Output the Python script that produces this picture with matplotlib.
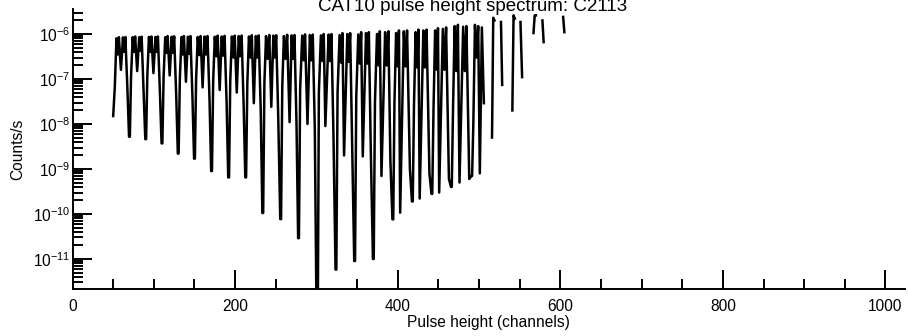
import numpy as np
import matplotlib
matplotlib.use('Agg')
import matplotlib.pyplot as plt
from matplotlib.ticker import LogLocator, MultipleLocator, NullFormatter, FixedLocator

plt.rcParams['font.family'] = ['Liberation Sans', 'DejaVu Sans']
plt.rcParams['mathtext.fontset'] = 'custom'
plt.rcParams['mathtext.rm'] = 'Liberation Sans'
plt.rcParams['mathtext.default'] = 'regular'

# Spectre : points clés (canal, coups/s), une ligne par période
channels = [
    50, 52, 54, 55.5, 57, 59.5, 62, 63.5, 65, 67.5,
    69.5, 70.5, 72, 74, 75.5, 77, 79.5, 82, 83.5, 85, 87.5,
    89.5, 90.5, 92, 94, 95.5, 97, 99.5, 102, 103.5, 105, 107.5,
    109.5, 110.5, 112, 114, 115.5, 117, 119.5, 122, 123.5, 125, 127.5,
    129.5, 130.5, 132, 134, 135.5, 137, 139.5, 142, 143.5, 145, 147.5,
    149.5, 150.5, 152, 154, 156, 157.5, 160, 162.5, 164, 166, 168.5,
    170.5, 171.5, 173, 175, 177, 178.5, 181, 183.5, 185, 187, 189.5,
    191.5, 192.5, 194, 196, 198, 199.5, 202, 204.5, 206, 208, 210.5,
    212.5, 213.5, 215, 217, 219, 220.5, 223, 225.5, 227, 229, 231.5,
    233.5, 234.5, 236, 238, 240, 242, 244.5, 247, 248.5, 250.5, 253,
    255.5, 256.5, 258, 260, 262, 264, 267, 269.5, 271, 273, 275.5,
    277.5, 278.5, 280, 282.5, 284.5, 286, 289, 292, 293.5, 295.5, 298,
    300.5, 301.5, 303, 305.5, 307.5, 309, 311, 315, 316.5, 318.5, 321,
    323.5, 324.5, 326, 328.5, 330.5, 332, 334, 338, 339.5, 341.5, 344,
    346.5, 347.5, 349, 351.5, 353.5, 355, 357, 361, 362.5, 364.5, 367,
    369.5, 370.5, 372, 374.5, 376.5, 378, 380, 384.5, 386.5, 388.5, 391,
    393.5, 394.5, 396, 398, 400, 401.5, 403, 407.5, 409.5, 411.5, 415,
    417.5, 418.5, 420, 422, 424, 425.5, 427, 431.5, 433.5, 435.5, 439,
    441.5, 442.5, 444, 446, 448, 449.5, 451, 455.5, 457.5, 459.5, 463,
    465.5, 466.5, 468, 470, 472, 474, 476, 480.5, 482.5, 484.5, 488,
    490.5, 491.5, 493, 495, 497, 499, 501, 503.5, 506,
]
rates = [
    1.5e-8, 6.7e-8, 8.0e-7, 3.5e-7, 8.5e-7, 1.6e-7, 8.4e-7, 4.0e-7, 8.6e-7, 6e-8,
    5.2e-9, 5.2e-9, 1.2e-7, 8.5e-7, 4.0e-7, 8.8e-7, 1.5e-7, 8.5e-7, 4.2e-7, 8.7e-7, 5e-8,
    4.6e-9, 4.6e-9, 1.2e-7, 8.6e-7, 4.0e-7, 8.8e-7, 1.35e-7, 8.6e-7, 4.0e-7, 8.8e-7, 5e-8,
    3.7e-9, 3.7e-9, 1.1e-7, 8.5e-7, 3.8e-7, 9.0e-7, 1.2e-7, 8.7e-7, 3.8e-7, 8.9e-7, 4.5e-8,
    2.2e-9, 2.2e-9, 1.0e-7, 8.6e-7, 3.5e-7, 9.0e-7, 8.7e-8, 8.7e-7, 3.6e-7, 9.0e-7, 4e-8,
    1.7e-9, 1.7e-9, 1.0e-7, 8.6e-7, 3.4e-7, 9.0e-7, 6.5e-8, 8.8e-7, 3.5e-7, 9.0e-7, 3.5e-8,
    9e-10, 9e-10, 9e-8, 8.7e-7, 3.2e-7, 9.2e-7, 5.7e-8, 8.8e-7, 3.3e-7, 9.1e-7, 3e-8,
    6.5e-10, 6.5e-10, 9e-8, 8.8e-7, 3.0e-7, 9.2e-7, 5e-8, 9.0e-7, 3.2e-7, 9.2e-7, 2.5e-8,
    6.5e-10, 6.5e-10, 8e-8, 8.8e-7, 3.0e-7, 9.4e-7, 2.9e-8, 9.0e-7, 3.0e-7, 9.3e-7, 2e-8,
    1.05e-10, 1.05e-10, 8e-8, 9.0e-7, 2.8e-7, 9.5e-7, 2.4e-8, 9.2e-7, 3.0e-7, 9.4e-7, 1.5e-8,
    7.7e-11, 7.7e-11, 7e-8, 9.0e-7, 2.8e-7, 9.6e-7, 1.1e-8, 9.3e-7, 2.8e-7, 9.5e-7, 1e-8,
    2.9e-11, 2.9e-11, 6e-8, 9.2e-7, 2.6e-7, 9.8e-7, 1e-8, 9.5e-7, 2.6e-7, 9.7e-7, 8e-9,
    1e-13, 1e-13, 5e-8, 9.3e-7, 2.5e-7, 1.0e-6, 9e-9, 9.7e-7, 2.5e-7, 1.0e-6, 5e-9,
    5.8e-12, 5.8e-12, 5e-8, 9.5e-7, 2.3e-7, 1.05e-6, 2e-9, 1.0e-6, 2.4e-7, 1.05e-6, 3e-9,
    9e-12, 9e-12, 4e-8, 9.8e-7, 2.2e-7, 1.1e-6, 1.9e-9, 1.05e-6, 2.2e-7, 1.1e-6, 2e-9,
    1e-11, 1e-11, 3e-8, 1.0e-6, 2.0e-7, 1.15e-6, 7e-10, 1.1e-6, 2.0e-7, 1.15e-6, 1.5e-9,
    7.6e-11, 7.6e-11, 3e-8, 1.05e-6, 1.9e-7, 1.2e-6, 1.07e-10, 1.15e-6, 1.9e-7, 1.2e-6, 1e-9,
    1.9e-10, 1.9e-10, 2.5e-8, 1.1e-6, 1.8e-7, 1.25e-6, 2.2e-10, 1.2e-6, 1.8e-7, 1.25e-6, 8e-10,
    2.8e-10, 2.8e-10, 2e-8, 1.2e-6, 1.6e-7, 1.35e-6, 3e-10, 1.3e-6, 1.6e-7, 1.4e-6, 6e-10,
    4e-10, 4e-10, 2e-8, 1.5e-6, 1.5e-7, 1.6e-6, 5e-10, 1.45e-6, 1.5e-7, 1.5e-6, 6e-10,
    7e-10, 7e-10, 1e-8, 1.6e-6, 3e-7, 1.5e-6, 8e-10, 1.4e-6, 2.9e-8,
]

# Queue du spectre : canaux isolés (les zéros ne sont pas tracés)
tail_channels = [516, 517.5, 519, np.nan, 527, 528.5, np.nan, 541, 542.5, 544, np.nan,
                 551, 553, np.nan, 567, 568.5, 570, np.nan, 578, 579.5, np.nan, 603.5, 605]
tail_rates = [5e-9, 2.3e-6, 2.0e-6, np.nan, 1.85e-6, 7.4e-8, np.nan, 2e-8, 2.6e-6, 2.2e-6, np.nan,
              1.85e-6, 1.1e-7, np.nan, 1.05e-6, 2.6e-6, 2.6e-6, np.nan, 2.0e-6, 6.6e-7, np.nan, 2.4e-6, 1.1e-6]

decades = [1e-11, 1e-10, 1e-9, 1e-8, 1e-7, 1e-6]

fig = plt.figure(figsize=(9.09, 3.36), dpi=100)
ax = fig.add_axes([0.0798, 0.1399, 0.9158, 0.8324])

ax.plot(channels + [np.nan] + tail_channels, rates + [np.nan] + tail_rates,
        color='black', lw=1.8)

ax.set_yscale('log')
ax.set_xlim(0, 1024)
ax.set_ylim(2.15e-12, 3.54e-6)

ax.xaxis.set_major_locator(MultipleLocator(200))
ax.xaxis.set_minor_locator(MultipleLocator(50))
ax.yaxis.set_major_locator(FixedLocator(decades))
ax.yaxis.set_minor_locator(LogLocator(base=10, subs=np.arange(2, 10), numticks=20))
ax.yaxis.set_minor_formatter(NullFormatter())

ax.tick_params(which='both', direction='in', width=1.4, labelsize=11.2)
ax.tick_params(which='major', length=14)
ax.tick_params(which='minor', length=7)
ax.tick_params(axis='y', pad=1.5)
ax.tick_params(axis='x', pad=7)

for side in ['top', 'right']:
    ax.spines[side].set_visible(False)
for side in ['left', 'bottom']:
    ax.spines[side].set_linewidth(1.4)

ax.set_xlabel('Pulse height (channels)', fontsize=11.2)
ax.set_ylabel('Counts/s', fontsize=11.2)
ax.xaxis.set_label_coords(0.5, -0.093)
ax.yaxis.set_label_coords(-0.057, 0.5)

fig.text(472.5 / 909, 1 - 11 / 336, 'CAT10 pulse height spectrum: C2113',
         ha='center', va='baseline', fontsize=13.5)

plt.savefig('out.png', dpi=100)
